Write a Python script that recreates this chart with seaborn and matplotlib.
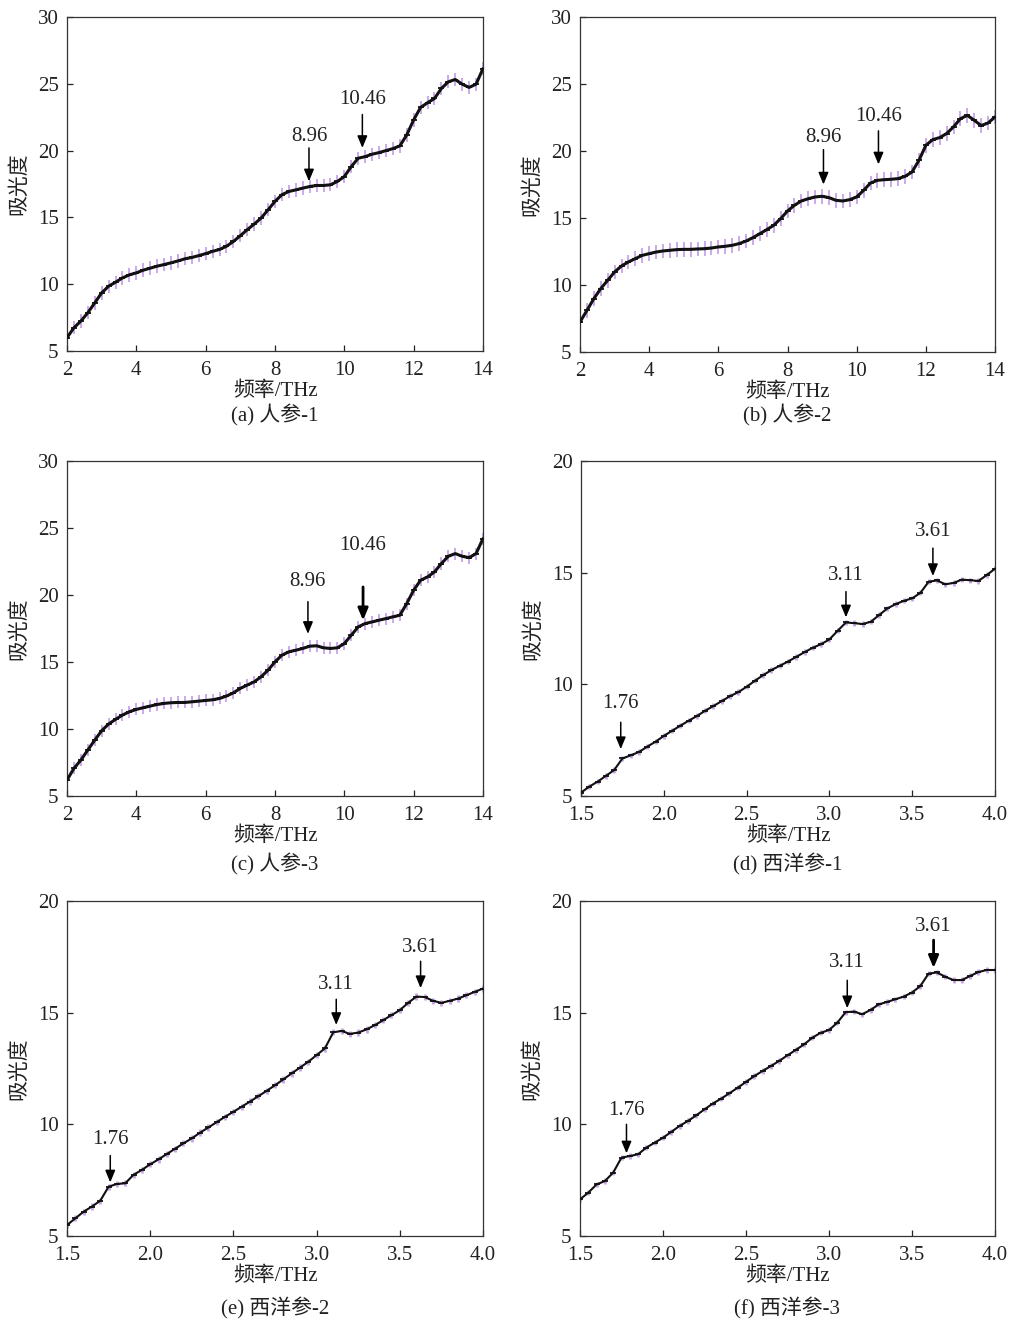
import numpy as np
import pandas as pd
import seaborn as sns
import matplotlib
matplotlib.use("Agg")
import matplotlib.pyplot as plt

# ---------------- data ----------------
X_GINSENG = [2.0, 2.2, 2.4, 2.6, 2.8, 3.0, 3.2, 3.4, 3.6, 3.8,
             4.0, 4.2, 4.4, 4.6, 4.8, 5.0, 5.2, 5.4, 5.6, 5.8,
             6.0, 6.2, 6.4, 6.6, 6.8, 7.0, 7.2, 7.4, 7.6, 7.8,
             8.0, 8.2, 8.4, 8.6, 8.8, 9.0, 9.2, 9.4, 9.6, 9.8,
             10.0, 10.2, 10.4, 10.6, 10.8, 11.0, 11.2, 11.4, 11.6, 11.8,
             12.0, 12.2, 12.4, 12.6, 12.8, 13.0, 13.2, 13.4, 13.6, 13.8, 14.0]

Y_A = [6.0, 6.74, 7.24, 7.86, 8.6, 9.35, 9.85, 10.15, 10.47, 10.7,
       10.85, 11.05, 11.2, 11.35, 11.47, 11.6, 11.74, 11.9, 12.0, 12.14,
       12.29, 12.46, 12.6, 12.84, 13.2, 13.63, 14.08, 14.5, 14.95, 15.57,
       16.2, 16.7, 16.94, 17.06, 17.19, 17.31, 17.39, 17.39, 17.44, 17.69,
       18.06, 18.8, 19.43, 19.55, 19.73, 19.85, 20.0, 20.15, 20.35, 21.17,
       22.3, 23.23, 23.58, 23.9, 24.65, 25.15, 25.32, 24.97, 24.73, 24.97, 26.14]

Y_B = [7.24, 8.1, 8.98, 9.73, 10.35, 10.97, 11.42, 11.72, 11.97, 12.21,
       12.34, 12.46, 12.54, 12.59, 12.64, 12.66, 12.66, 12.69, 12.71, 12.76,
       12.84, 12.89, 12.96, 13.09, 13.28, 13.53, 13.83, 14.13, 14.45, 14.95,
       15.52, 15.95, 16.27, 16.44, 16.57, 16.62, 16.52, 16.32, 16.27, 16.37,
       16.57, 17.06, 17.61, 17.81, 17.86, 17.89, 17.94, 18.11, 18.43, 19.3,
       20.42, 20.85, 21.0, 21.3, 21.8, 22.41, 22.66, 22.29, 21.9, 22.09, 22.54]

Y_C = [6.19, 7.06, 7.68, 8.43, 9.17, 9.87, 10.37, 10.72, 11.04, 11.29,
       11.46, 11.59, 11.71, 11.83, 11.91, 11.96, 11.98, 11.98, 12.03, 12.08,
       12.13, 12.18, 12.28, 12.46, 12.7, 13.03, 13.28, 13.52, 13.9, 14.39,
       15.01, 15.51, 15.76, 15.88, 16.01, 16.18, 16.21, 16.06, 16.01, 16.06,
       16.38, 17.0, 17.62, 17.87, 17.99, 18.12, 18.24, 18.37, 18.49, 19.36,
       20.36, 21.1, 21.35, 21.72, 22.35, 22.89, 23.09, 22.89, 22.79, 23.09, 24.21]

X_AMERICAN = [1.50, 1.55, 1.60, 1.65, 1.70, 1.75, 1.80, 1.85, 1.90, 1.95,
              2.00, 2.05, 2.10, 2.15, 2.20, 2.25, 2.30, 2.35, 2.40, 2.45,
              2.50, 2.55, 2.60, 2.65, 2.70, 2.75, 2.80, 2.85, 2.90, 2.95,
              3.00, 3.05, 3.10, 3.15, 3.20, 3.25, 3.30, 3.35, 3.40, 3.45,
              3.50, 3.55, 3.60, 3.65, 3.70, 3.75, 3.80, 3.85, 3.90, 3.95, 4.00]

Y_D = [5.15, 5.42, 5.64, 5.9, 6.16, 6.68, 6.82, 6.97, 7.21, 7.43,
       7.69, 7.92, 8.15, 8.37, 8.58, 8.82, 9.03, 9.25, 9.47, 9.65,
       9.89, 10.16, 10.41, 10.64, 10.83, 11.02, 11.23, 11.44, 11.64, 11.8,
       12.01, 12.4, 12.77, 12.74, 12.7, 12.8, 13.1, 13.4, 13.59, 13.74,
       13.85, 14.1, 14.6, 14.65, 14.48, 14.54, 14.69, 14.66, 14.63, 14.89, 15.18]

Y_E = [5.49, 5.79, 6.09, 6.32, 6.58, 7.21, 7.33, 7.36, 7.74, 7.96,
       8.21, 8.43, 8.67, 8.91, 9.15, 9.37, 9.63, 9.86, 10.1, 10.34,
       10.56, 10.79, 11.02, 11.26, 11.5, 11.75, 12.01, 12.28, 12.54, 12.8,
       13.1, 13.4, 14.12, 14.18, 14.05, 14.11, 14.25, 14.44, 14.66, 14.89,
       15.11, 15.44, 15.72, 15.7, 15.53, 15.44, 15.53, 15.63, 15.78, 15.93, 16.08]

Y_F = [6.64, 6.94, 7.31, 7.46, 7.84, 8.51, 8.58, 8.66, 8.96, 9.18,
       9.4, 9.66, 9.93, 10.15, 10.4, 10.67, 10.93, 11.15, 11.39, 11.64,
       11.9, 12.16, 12.39, 12.61, 12.84, 13.09, 13.33, 13.58, 13.88, 14.1,
       14.22, 14.55, 15.02, 15.05, 14.93, 15.12, 15.37, 15.48, 15.6, 15.72,
       15.9, 16.19, 16.75, 16.8, 16.61, 16.46, 16.46, 16.64, 16.82, 16.91, 16.91]

ERR = {"a": 0.5, "b": 0.55, "c": 0.45, "d": 0.12, "e": 0.14, "f": 0.12}

CAPTIONS = {"a": "(a) 人参-1", "b": "(b) 人参-2", "c": "(c) 人参-3",
            "d": "(d) 西洋参-1", "e": "(e) 西洋参-2", "f": "(f) 西洋参-3"}

# peak annotations: (label, arrow x, tip y, tail y, text bottom y, bold)
PEAKS = {
    "a": [("8.96", 8.98, 17.7, 20.2, 20.35, False), ("10.46", 10.52, 20.2, 22.7, 23.1, False)],
    "b": [("8.96", 9.04, 17.5, 20.1, 20.3, False), ("10.46", 10.63, 19.0, 21.5, 21.9, False)],
    "c": [("8.96", 8.95, 17.1, 19.5, 20.3, False), ("10.46", 10.54, 18.1, 20.6, 22.95, True)],
    "d": [("1.76", 1.74, 7.1, 8.3, 8.7, False), ("3.11", 3.10, 13.0, 14.15, 14.45, False),
          ("3.61", 3.625, 14.85, 16.1, 16.4, False)],
    "e": [("1.76", 1.76, 7.4, 8.6, 8.9, False), ("3.11", 3.118, 14.45, 15.6, 15.85, False),
          ("3.61", 3.625, 16.1, 17.3, 17.5, False)],
    "f": [("1.76", 1.78, 8.7, 10.0, 10.2, False), ("3.11", 3.11, 15.2, 16.45, 16.8, False),
          ("3.61", 3.63, 17.0, 18.25, 18.45, True)],
}

SERIES = {
    "a": (X_GINSENG, Y_A), "b": (X_GINSENG, Y_B), "c": (X_GINSENG, Y_C),
    "d": (X_AMERICAN, Y_D), "e": (X_AMERICAN, Y_E), "f": (X_AMERICAN, Y_F),
}

# ---------------- style ----------------
sns.set_theme(style="white")
plt.rcParams["font.family"] = ["Liberation Serif", "Noto Sans CJK SC", "DejaVu Sans"]
plt.rcParams["axes.unicode_minus"] = False

FS = 15
PURPLE = "#c9a3e8"
INK = "#222222"

fig = plt.figure(figsize=(10.13, 13.23), dpi=100)
W, H = 1013, 1323

boxes = {  # left, top, right, bottom in px
    "a": (67, 17, 483, 351), "b": (580, 17, 995, 352),
    "c": (67, 461, 483, 796), "d": (581, 461, 995, 796),
    "e": (67, 901, 483, 1236), "f": (580, 901, 995, 1236),
}
caption_y = {"a": 415, "b": 415, "c": 864, "d": 864, "e": 1308, "f": 1308}

for key, (l, t, r, b) in boxes.items():
    ax = fig.add_axes([l / W, 1 - b / H, (r - l) / W, (b - t) / H])
    xs, ys = SERIES[key]
    df = pd.DataFrame({"freq": xs, "abs": ys})
    thin = key in ("d", "e", "f")
    ax.errorbar(df["freq"], df["abs"], yerr=ERR[key], fmt="none",
                ecolor=PURPLE, elinewidth=2.0 if thin else 1.3, capsize=0, zorder=2)
    sns.lineplot(data=df, x="freq", y="abs", ax=ax, color="#111111",
                 lw=1.5 if thin else 2.2, zorder=3, legend=False)
    sns.scatterplot(data=df, x="freq", y="abs", ax=ax, color="#111111",
                    marker="_", s=14 if thin else 18, linewidth=1.3, zorder=4, legend=False)

    if not thin:
        ax.set_xlim(2, 14)
        ax.set_ylim(5, 30)
        ax.set_xticks([2, 4, 6, 8, 10, 12, 14])
        ax.set_yticks([5, 10, 15, 20, 25, 30])
    else:
        ax.set_xlim(1.5, 4.0)
        ax.set_ylim(5, 20)
        ax.set_xticks([1.5, 2.0, 2.5, 3.0, 3.5, 4.0])
        ax.set_xticklabels(["1.5", "2.0", "2.5", "3.0", "3.5", "4.0"])
        ax.set_yticks([5, 10, 15, 20])

    ax.tick_params(direction="in", length=4, width=0.9, labelsize=FS,
                   colors=INK, bottom=True, left=True, top=False, right=False)
    ax.tick_params(axis="x", pad=7)
    ax.tick_params(axis="y", pad=6)
    for s in ax.spines.values():
        s.set_color("#333333")
        s.set_linewidth(0.9)

    ax.set_xlabel("频率/THz", fontsize=FS, labelpad=1, color=INK)
    ax.set_ylabel("吸光度", fontsize=FS, labelpad=6, color=INK)

    for label, xa, tip, tail, txt_y, bold in PEAKS[key]:
        ax.annotate("", xy=(xa, tip), xytext=(xa, tail),
                    arrowprops=dict(arrowstyle="-|>,head_length=0.6,head_width=0.25",
                                    color="black", lw=2.0 if bold else 1.1,
                                    shrinkA=0, shrinkB=0), zorder=5)
        ax.text(xa, txt_y, label, ha="center", va="bottom", fontsize=FS,
                color=INK, zorder=5)

    fig.text(((l + r) / 2) / W, 1 - caption_y[key] / H, CAPTIONS[key],
             ha="center", va="center", fontsize=FS, color=INK)

fig.savefig("out.png", dpi=100)
